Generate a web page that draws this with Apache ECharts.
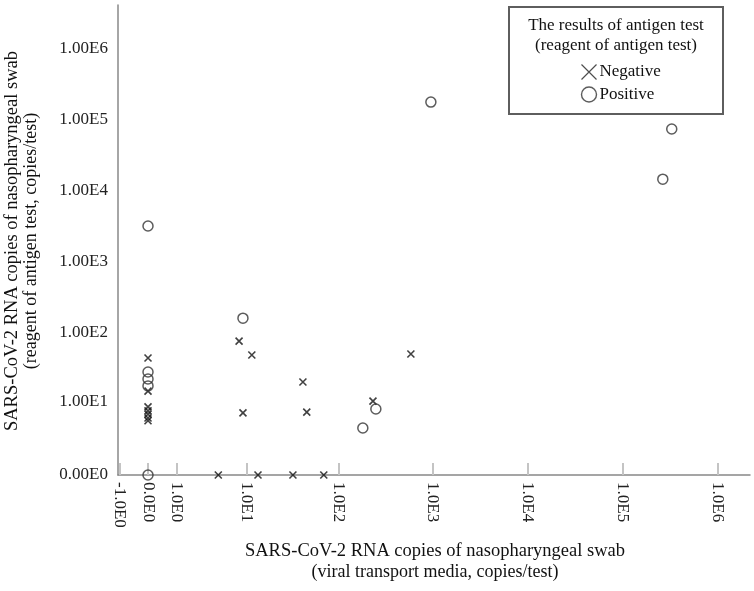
<!DOCTYPE html>
<html>
<head>
<meta charset="utf-8">
<script src="https://cdn.jsdelivr.net/npm/echarts@6/dist/echarts.min.js"></script>
<style>html,body{margin:0;padding:0;background:#fff}#c{width:754px;height:591px}</style>
</head>
<body>
<div id="c"></div>
<script>
// Raw values (copies/test)
var negX = [0, 0, 0, 0, 0, 0, 0, 8.1, 11.4, 9.0, 41.8, 46, 4.5, 13.4, 32.6, 70, 233, 586];
var negY = [43.5, 14.2, 8.1, 7.0, 6.2, 5.35, 4.8, 76, 48, 6.5, 19.4, 6.7, 0, 0, 0, 0, 10, 49.6];
var posX = [0, 0, 0, 0, 0, 9.0, 250, 182, 952, 328000, 264000];
var posY = [3210, 27.2, 21.5, 17, 0, 161, 7.5, 3.6, 179000, 74600, 14700];

var xTickValues = [-1, 0, 1, 10, 100, 1000, 10000, 100000, 1000000];
var xTickLabels = ['-1.0E0', '0.0E0', '1.0E0', '1.0E1', '1.0E2', '1.0E3', '1.0E4', '1.0E5', '1.0E6'];
var yTickValues = [0, 10, 100, 1000, 10000, 100000, 1000000];
var yTickLabels = ['0.00E0', '1.00E1', '1.00E2', '1.00E3', '1.00E4', '1.00E5', '1.00E6'];

function T(v) { return (v < 0 ? -1 : 1) * Math.log10(1 + Math.abs(v)); }
function pairs(xs, ys) { return xs.map(function (x, i) { return [T(x), T(ys[i])]; }); }
function lookup(vals, labels) {
  return function (v) {
    for (var i = 0; i < vals.length; i++) if (Math.abs(T(vals[i]) - v) < 1e-6) return labels[i];
    return '';
  };
}

var serif = '"Liberation Serif", "Times New Roman", serif';
var chart = echarts.init(document.getElementById('c'));
chart.setOption({
  animation: false,
  grid: { left: 118, right: 4, top: 5, bottom: 116 },
  xAxis: {
    type: 'value', min: -0.316, max: 6.34,
    splitLine: { show: false },
    axisLine: { show: true, onZero: false, lineStyle: { color: '#888', width: 1.5 } },
    axisTick: { show: true, inside: true, length: 12, customValues: xTickValues.map(T), lineStyle: { color: '#c4c4c4', width: 2 } },
    axisLabel: { rotate: -90, margin: 7, fontFamily: serif, fontSize: 17, color: '#222',
      customValues: xTickValues.map(T), formatter: lookup(xTickValues, xTickLabels) }
  },
  yAxis: {
    type: 'value', min: 0, max: 6.62,
    splitLine: { show: false },
    axisLine: { show: true, onZero: false, lineStyle: { color: '#888', width: 1.5 } },
    axisTick: { show: false },
    axisLabel: { margin: 10, fontFamily: serif, fontSize: 17, color: '#222',
      customValues: yTickValues.map(T), formatter: lookup(yTickValues, yTickLabels) }
  },
  legend: {
    orient: 'vertical', left: 574, top: 57, itemGap: 4, itemWidth: 15, itemHeight: 15,
    textStyle: { fontFamily: serif, fontSize: 17, color: '#111', padding: [0, 0, 0, -2] },
    data: [
      { name: 'Negative', itemStyle: { borderWidth: 1.2, borderColor: '#222' } },
      { name: 'Positive', itemStyle: { borderWidth: 1.4, borderColor: '#333' } }
    ]
  },
  graphic: [
    { type: 'rect', shape: { x: 509, y: 7, width: 214, height: 107 }, style: { fill: 'none', stroke: '#5e5e5e', lineWidth: 2 } },
    { type: 'text', x: 616, y: 26, style: { text: 'The results of antigen test', font: '17px ' + serif, fill: '#111', align: 'center', verticalAlign: 'middle' } },
    { type: 'text', x: 616, y: 46, style: { text: '(reagent of antigen test)', font: '17px ' + serif, fill: '#111', align: 'center', verticalAlign: 'middle' } },
    { type: 'text', x: 435, y: 551, style: { text: 'SARS-CoV-2 RNA copies of nasopharyngeal swab', font: '18.5px ' + serif, fill: '#111', align: 'center', verticalAlign: 'middle' } },
    { type: 'text', x: 435, y: 572, style: { text: '(viral transport media, copies/test)', font: '18px ' + serif, fill: '#111', align: 'center', verticalAlign: 'middle' } },
    { type: 'text', x: 12, y: 241, rotation: Math.PI / 2, style: { text: 'SARS-CoV-2 RNA copies of nasopharyngeal swab', font: '18.5px ' + serif, fill: '#111', align: 'center', verticalAlign: 'middle' } },
    { type: 'text', x: 31, y: 241, rotation: Math.PI / 2, style: { text: '(reagent of antigen test, copies/test)', font: '18px ' + serif, fill: '#111', align: 'center', verticalAlign: 'middle' } }
  ],
  series: [
    { name: 'Negative', type: 'scatter', data: pairs(negX, negY),
      symbol: 'path://M0,0L10,10M0,10L10,0', symbolSize: 7,
      itemStyle: { color: 'none', borderColor: '#111', borderWidth: 1.6 } },
    { name: 'Positive', type: 'scatter', data: pairs(posX, posY),
      symbol: 'circle', symbolSize: 10,
      itemStyle: { color: 'rgba(0,0,0,0)', borderColor: '#333', borderWidth: 1.5 } }
  ]
});
</script>
</body>
</html>
